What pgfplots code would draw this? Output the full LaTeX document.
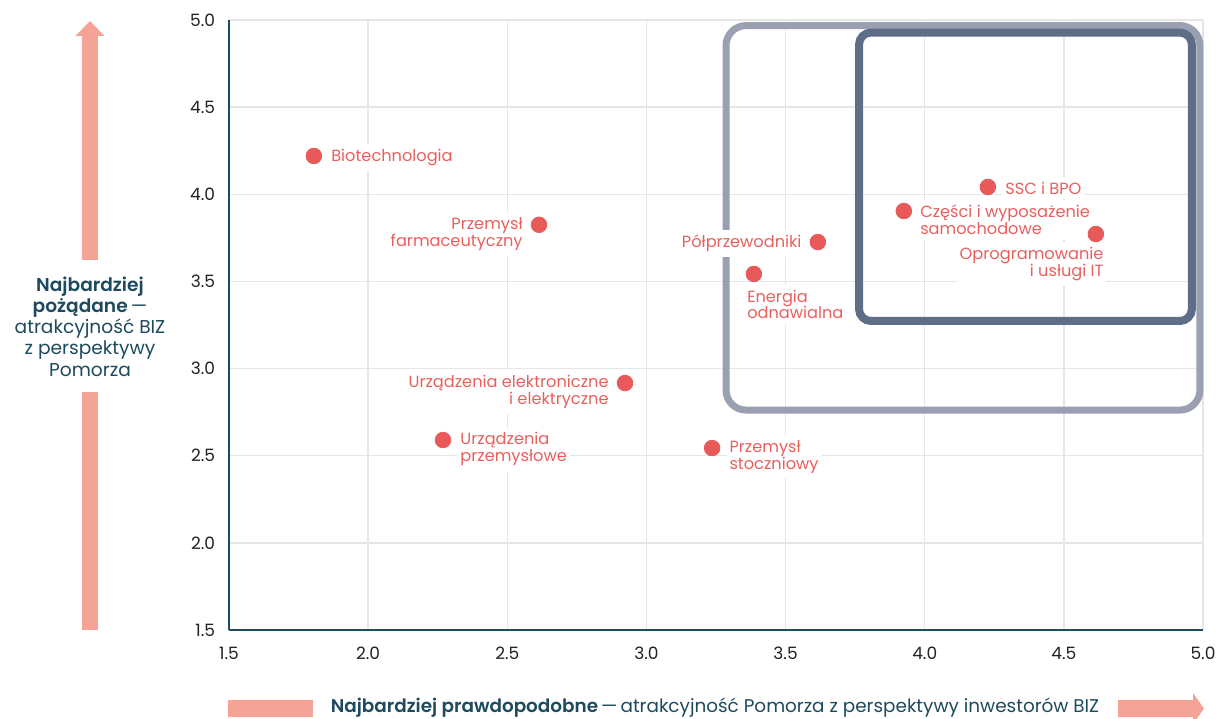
\documentclass[border=0pt]{standalone}
\usepackage{pgfplots}
\pgfplotsset{compat=1.18}
\usepackage{fontspec}
\setmainfont{Poppins}[BoldFont={* SemiBold}]
\definecolor{ptc}{HTML}{E85A5A}
\definecolor{labc}{HTML}{E8605E}
\definecolor{arrc}{HTML}{F4A396}
\definecolor{axisc}{HTML}{1D4A5E}
\definecolor{outrc}{HTML}{9A9FB2}
\definecolor{innrc}{HTML}{5E6E86}
\definecolor{gridc}{HTML}{E6E6E6}
\definecolor{tickc}{HTML}{222222}
\tikzset{lbl/.style={fill=white, inner xsep=1.5pt, inner ysep=2.5pt, text=labc, font=\fontsize{8.1}{8.4}\selectfont}}

\pgfplotstableread{
x y
1.805 4.220
2.614 3.825
3.616 3.726
3.386 3.543
3.925 3.904
4.227 4.042
4.615 3.772
2.923 2.917
2.269 2.590
3.236 2.544
}\points

\begin{document}
\begin{tikzpicture}
\useasboundingbox (-114.5pt,-44pt) rectangle (495pt,315pt);
% arrows
\fill[arrc] (-73.5pt,0pt) rectangle (-65.5pt,119pt);
\fill[arrc] (-73.5pt,185pt) -- (-73.5pt,297pt) -- (-76.75pt,297pt) -- (-69.5pt,304.5pt) -- (-62.25pt,297pt) -- (-65.5pt,297pt) -- (-65.5pt,185pt) -- cycle;
\fill[arrc] (-0.5pt,-35pt) rectangle (42pt,-43.5pt);
\fill[arrc] (444.5pt,-35pt) -- (482pt,-35pt) -- (482pt,-31.5pt) -- (487.5pt,-39.25pt) -- (482pt,-47pt) -- (482pt,-43.5pt) -- (444.5pt,-43.5pt) -- cycle;
\node[align=center, text=axisc, font=\fontsize{9.3}{10.6}\selectfont] at (-69.5pt,151.75pt)
  {\textbf{Najbardziej}\\\textbf{pożądane}\,—\\atrakcyjność BIZ\\z perspektywy\\Pomorza};
\node[text=axisc, font=\fontsize{9.2}{10}\selectfont, anchor=base] at (243pt,-41pt)
  {\textbf{Najbardziej prawdopodobne}\,—\,atrakcyjność Pomorza z perspektywy inwestorów BIZ};
\begin{axis}[
  at={(0pt,0pt)}, anchor=south west,
  scale only axis, width=487pt, height=305pt,
  xmin=1.5, xmax=5, ymin=1.5, ymax=5,
  xtick={1.5,2.0,2.5,3.0,3.5,4.0,4.5,5.0},
  ytick={1.5,2.0,2.5,3.0,3.5,4.0,4.5,5.0},
  /pgf/number format/fixed, /pgf/number format/fixed zerofill,
  /pgf/number format/precision=1, /pgf/number format/assume math mode=true,
  tick label style={font=\fontsize{8.5}{10}\selectfont, text=tickc},
  xticklabel style={yshift=-5pt},
  yticklabel style={xshift=-3.4pt},
  major tick length=0pt,
  grid=major,
  major grid style={gridc, line width=0.75pt},
  axis x line*=bottom, axis y line*=left,
  axis line style={axisc, line width=0.75pt, -},
  clip=false,
]
\draw[outrc, line width=3.5pt, rounded corners=10pt] (axis cs:3.286,2.762) rectangle (axis cs:4.989,4.968);
\draw[innrc, line width=4pt, rounded corners=6pt] (axis cs:3.764,3.273) rectangle (axis cs:4.960,4.928);

\node[lbl, anchor=west, xshift=7pt, yshift=-0.8pt] at (axis cs:1.805,4.220) {Biotechnologia};
\node[lbl, anchor=east, align=right, xshift=-6.5pt, yshift=-4.6pt] at (axis cs:2.614,3.825) {Przemysł\\farmaceutyczny};
\node[lbl, anchor=east, xshift=-6.5pt, yshift=-0.6pt] at (axis cs:3.616,3.726) {Półprzewodniki};
\node[lbl, anchor=west, align=left, xshift=-5pt, yshift=-15.2pt] at (axis cs:3.386,3.543) {Energia\\odnawialna};
\node[lbl, anchor=west, align=left, xshift=6.5pt, yshift=-4.4pt] at (axis cs:3.925,3.904) {Części i wyposażenie\\samochodowe};
\node[lbl, anchor=west, xshift=7pt, yshift=-0.6pt] at (axis cs:4.227,4.042) {SSC i BPO};
\node[lbl, anchor=east, align=right, xshift=5.5pt, yshift=-15pt] at (axis cs:4.615,3.772) {Oprogramowanie\\i usługi IT};
\node[lbl, anchor=east, align=right, xshift=-6.5pt, yshift=-4.5pt] at (axis cs:2.923,2.917) {Urządzenia elektroniczne\\i elektryczne};
\node[lbl, anchor=west, align=left, xshift=7pt, yshift=-4.6pt] at (axis cs:2.269,2.590) {Urządzenia\\przemysłowe};
\node[lbl, anchor=west, align=left, xshift=7pt, yshift=-4.4pt] at (axis cs:3.236,2.544) {Przemysł\\stoczniowy};

\addplot[only marks, mark=*, mark size=3.9pt, ptc, mark options={draw=ptc, fill=ptc}] table[x=x, y=y] {\points};
\end{axis}
\end{tikzpicture}
\end{document}
